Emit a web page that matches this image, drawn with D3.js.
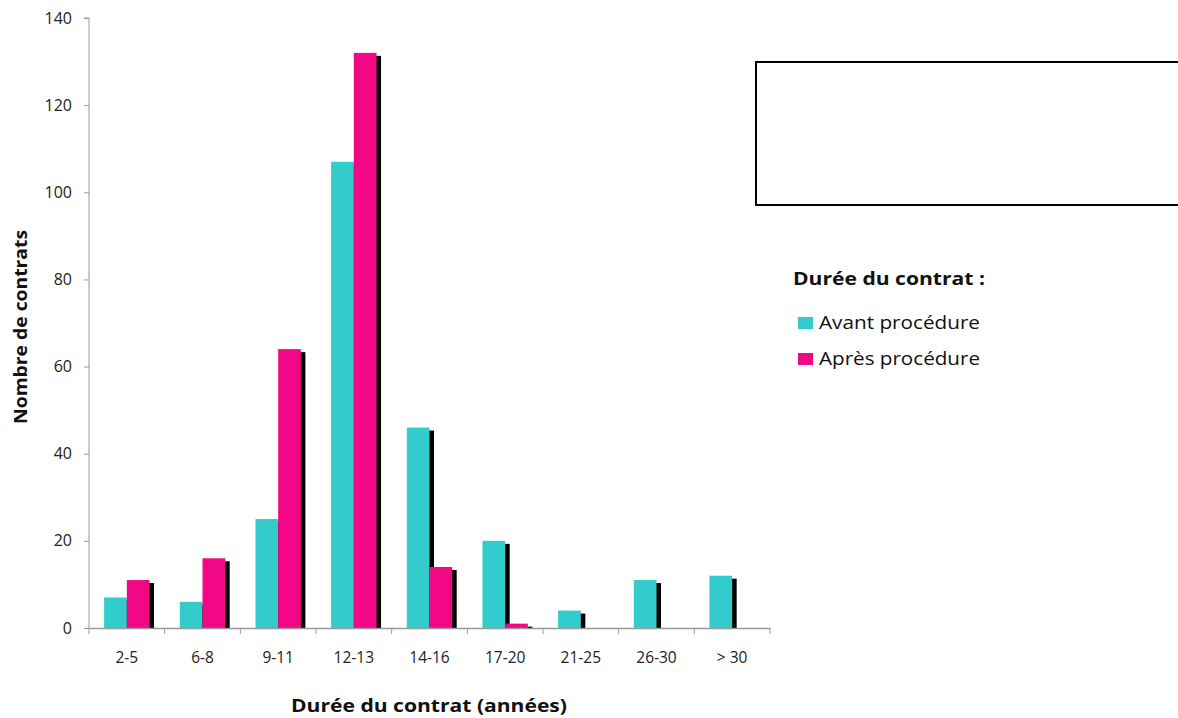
<!DOCTYPE html>
<html><head><meta charset="utf-8">
<script src="https://cdn.jsdelivr.net/npm/d3@7"></script>
<style>body{margin:0;background:#fff}svg{display:block}text{font-family:"Open Sans",Lato,sans-serif}</style>
</head><body><svg id="c" width="1178" height="718"></svg>
<script>
const categories = ["2-5","6-8","9-11","12-13","14-16","17-20","21-25","26-30","> 30"];
const avant = [7,6,25,107,46,20,4,11,12];
const apres = [11,16,64,132,14,1,0,0,0];
const yTicks = [0,20,40,60,80,100,120,140];
const seriesNames = ["Avant procédure","Après procédure"];
const colors = ["#33CCCC","#F20884"];

const svg = d3.select("#c");
const x0 = 89, x1 = 770, yTop = 18, yBot = 628;
const x = d3.scaleBand().domain(categories).range([x0,x1]).padding(0);
const y = d3.scaleLinear().domain([0,140]).range([yBot,yTop]);
const bw = x.bandwidth()*0.3, off = x.bandwidth()*0.2;

const series = [avant, apres];
series.forEach((vals, si) => {
  const g = svg.append("g");
  categories.forEach((c,i) => {
    const v = vals[i];
    if (v <= 0) return;
    const bx = x(c) + off + si*bw;
    g.append("rect").attr("x", bx+4.5).attr("y", y(v)+3).attr("width", bw).attr("height", yBot - y(v) - 3).attr("fill","#000");
  });
  categories.forEach((c,i) => {
    const v = vals[i];
    if (v <= 0) return;
    const bx = x(c) + off + si*bw;
    g.append("rect").attr("x", bx).attr("y", y(v)).attr("width", bw).attr("height", yBot - y(v)).attr("fill", colors[si]);
  });
});

// y axis
const ya = svg.append("g").attr("transform",`translate(${x0},0)`)
  .call(d3.axisLeft(y).tickValues(yTicks).tickSize(5).tickPadding(12).tickFormat(d3.format("d")));
ya.select(".domain").attr("stroke","#999").attr("d",`M-5,${yTop}H0V${yBot}`);
ya.selectAll(".tick line").attr("stroke","#999");
ya.selectAll("text").attr("font-size",16).attr("fill","#222").style("font-family","Open Sans");

// x axis
const xa = svg.append("g").attr("transform",`translate(0,${yBot})`)
  .call(d3.axisBottom(x).tickSize(0).tickPadding(24));
xa.select(".domain").attr("stroke","#999").attr("stroke-width",1.5);
xa.selectAll("text").attr("font-size",15.5).attr("fill","#222").style("font-family","Open Sans");
const bounds = categories.map(c => x(c)).concat([x1]);
svg.append("g").selectAll("line").data(bounds).join("line")
  .attr("x1",d=>d).attr("x2",d=>d).attr("y1",yBot).attr("y2",yBot+6).attr("stroke","#999");

// titles
svg.append("text").attr("x",291).attr("y",712)
  .attr("font-size",17).attr("font-weight","bold").attr("fill","#111")
  .attr("textLength",276).attr("lengthAdjust","spacingAndGlyphs").text("Durée du contrat (années)");
svg.append("text").attr("transform","translate(27,424) rotate(-90)")
  .attr("font-size",17).attr("font-weight","bold").attr("fill","#111")
  .attr("textLength",194).attr("lengthAdjust","spacingAndGlyphs").text("Nombre de contrats");

// box
svg.append("rect").attr("x",756).attr("y",62).attr("width",440).attr("height",143)
  .attr("fill","none").attr("stroke","#000").attr("stroke-width",2);

// legend
svg.append("text").attr("x",793).attr("y",285).attr("font-size",17.5).attr("font-weight","bold").attr("fill","#111")
  .attr("textLength",192).attr("lengthAdjust","spacingAndGlyphs").text("Durée du contrat :");
seriesNames.forEach((n,i) => {
  const ly = 317 + i*36;
  svg.append("rect").attr("x",798).attr("y",ly).attr("width",15).attr("height",12).attr("fill",colors[i]);
  svg.append("text").attr("x",819).attr("y",ly+12).attr("font-size",18).attr("fill","#111")
    .attr("textLength",161).attr("lengthAdjust","spacingAndGlyphs").text(n);
});
</script></body></html>
